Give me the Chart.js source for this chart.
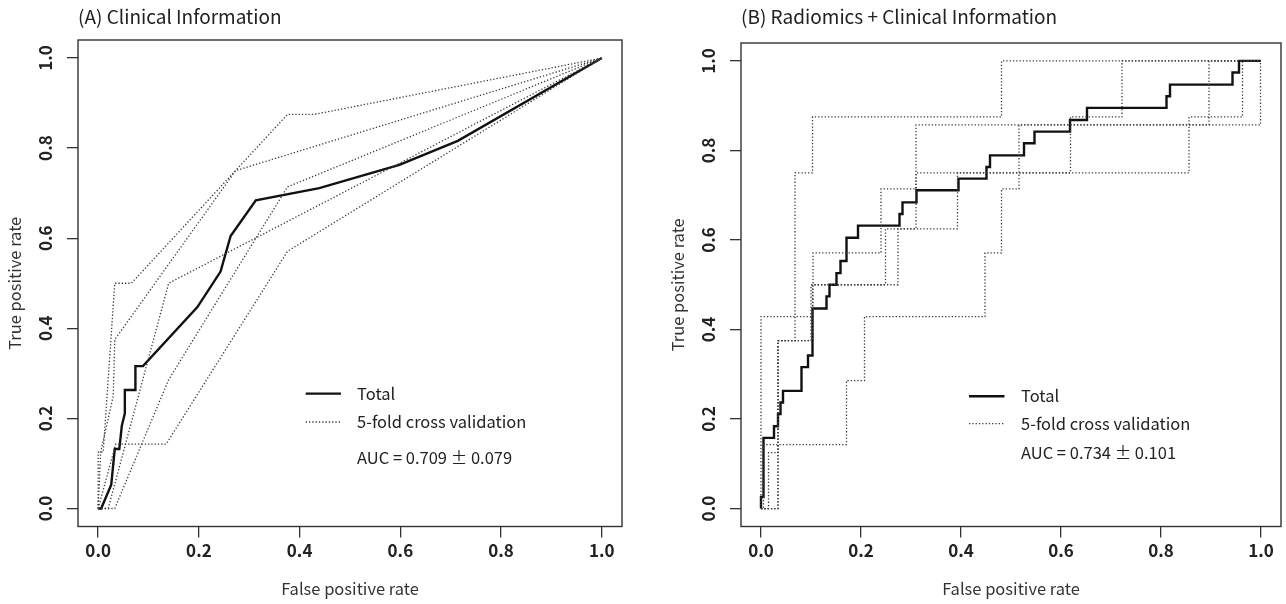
<!DOCTYPE html>
<html>
<head>
<meta charset="utf-8">
<script src="https://cdn.jsdelivr.net/npm/chart.js@4.4.1/dist/chart.umd.min.js"></script>
<style>
  html, body { margin: 0; padding: 0; background: #fff; }
  #wrap { position: relative; width: 1286px; height: 604px; overflow: hidden; }
  canvas { position: absolute; top: 0; }
  #chartA { left: 0; }
  #chartB { left: 663px; }
</style>
</head>
<body>
<div id="wrap">
  <canvas id="chartA" width="640" height="604"></canvas>
  <canvas id="chartB" width="623" height="604"></canvas>
</div>
<script>
// ROC curves
const tickValues = [0, 0.2, 0.4, 0.6, 0.8, 1.0];

// (A) Clinical Information
const clinTotalFpr = [0, 0.006, 0.026, 0.033, 0.042, 0.047, 0.053, 0.053, 0.074, 0.074, 0.089, 0.197, 0.243, 0.263, 0.313, 0.439, 0.598, 0.714, 1];
const clinTotalTpr = [0, 0, 0.053, 0.132, 0.132, 0.184, 0.211, 0.263, 0.263, 0.316, 0.316, 0.447, 0.526, 0.605, 0.684, 0.711, 0.763, 0.816, 1];
const clinFold1Fpr = [0, 0, 0.01, 0.033, 0.066, 0.376, 0.43, 1];
const clinFold1Tpr = [0, 0.125, 0.125, 0.5, 0.5, 0.875, 0.875, 1];
const clinFold2Fpr = [0, 0.005, 0.03, 0.033, 0.273, 1];
const clinFold2Tpr = [0, 0.125, 0.25, 0.375, 0.75, 1];
const clinFold3Fpr = [0, 0.02, 0.14, 1];
const clinFold3Tpr = [0, 0, 0.5, 1];
const clinFold4Fpr = [0, 0.033, 0.14, 0.376, 1];
const clinFold4Tpr = [0, 0, 0.286, 0.714, 1];
const clinFold5Fpr = [0, 0.035, 0.135, 0.376, 1];
const clinFold5Tpr = [0, 0.143, 0.143, 0.571, 1];

// (B) Radiomics + Clinical Information
const radTotalFpr = [0, 0, 0.005, 0.005, 0.026, 0.026, 0.034, 0.034, 0.039, 0.039, 0.044, 0.044, 0.081, 0.081, 0.094, 0.094, 0.103, 0.103, 0.131, 0.131, 0.137, 0.137, 0.151, 0.151, 0.159, 0.159, 0.171, 0.171, 0.194, 0.194, 0.277, 0.277, 0.283, 0.283, 0.311, 0.311, 0.395, 0.395, 0.451, 0.451, 0.458, 0.458, 0.526, 0.526, 0.547, 0.547, 0.618, 0.618, 0.652, 0.652, 0.811, 0.811, 0.818, 0.818, 0.943, 0.943, 0.956, 0.956, 1];
const radTotalTpr = [0, 0.026, 0.026, 0.158, 0.158, 0.184, 0.184, 0.211, 0.211, 0.237, 0.237, 0.263, 0.263, 0.316, 0.316, 0.342, 0.342, 0.447, 0.447, 0.474, 0.474, 0.5, 0.5, 0.526, 0.526, 0.553, 0.553, 0.605, 0.605, 0.632, 0.632, 0.658, 0.658, 0.684, 0.684, 0.711, 0.711, 0.737, 0.737, 0.763, 0.763, 0.789, 0.789, 0.816, 0.816, 0.842, 0.842, 0.868, 0.868, 0.895, 0.895, 0.921, 0.921, 0.947, 0.947, 0.974, 0.974, 1, 1];
const radFold1Fpr = [0, 0.034, 0.034, 0.068, 0.068, 0.103, 0.103, 0.481, 0.481, 1];
const radFold1Tpr = [0, 0, 0.375, 0.375, 0.75, 0.75, 0.875, 0.875, 1, 1];
const radFold2Fpr = [0, 0, 0.104, 0.104, 0.24, 0.24, 0.31, 0.31, 0.896, 0.896, 1];
const radFold2Tpr = [0, 0.429, 0.429, 0.571, 0.571, 0.714, 0.714, 0.857, 0.857, 1, 1];
const radFold3Fpr = [0, 0.015, 0.015, 0.034, 0.034, 0.103, 0.103, 0.274, 0.274, 0.31, 0.31, 0.619, 0.619, 0.722, 0.722, 1];
const radFold3Tpr = [0, 0, 0.125, 0.125, 0.375, 0.375, 0.5, 0.5, 0.625, 0.625, 0.75, 0.75, 0.875, 0.875, 1, 1];
const radFold4Fpr = [0, 0.034, 0.034, 0.1, 0.1, 0.249, 0.249, 0.393, 0.393, 0.856, 0.856, 0.963, 0.963, 1];
const radFold4Tpr = [0, 0, 0.375, 0.375, 0.5, 0.5, 0.625, 0.625, 0.75, 0.75, 0.875, 0.875, 1, 1];
const radFold5Fpr = [0, 0.005, 0.005, 0.171, 0.171, 0.207, 0.207, 0.448, 0.448, 0.481, 0.481, 0.516, 0.516, 0.999, 0.999, 1];
const radFold5Tpr = [0, 0, 0.143, 0.143, 0.286, 0.286, 0.429, 0.429, 0.571, 0.571, 0.714, 0.714, 0.857, 0.857, 1, 1];

const FONT = '"Noto Sans CJK JP", "Noto Sans", sans-serif';
Chart.defaults.font.family = FONT;
Chart.defaults.color = '#222';

const foldStyle = { borderColor: '#3a3a3a', borderWidth: 1.3, borderDash: [1.3, 2] };
const totalStyle = { borderColor: '#111', borderWidth: 2.4 };

function toPoints(xs, ys) {
    return xs.map((x, i) => ({ x: x, y: ys[i] }));
}

// Box around the plot region, R style
const boxPlugin = {
    id: 'plotBox',
    afterDraw(chart) {
        const { ctx, chartArea: a } = chart;
        ctx.save();
        ctx.strokeStyle = '#333';
        ctx.lineWidth = 1.4;
        ctx.strokeRect(a.left, a.top, a.right - a.left, a.bottom - a.top);
        ctx.restore();
    }
};

// Legend drawn inside the plot area
const rocLegend = {
    id: 'rocLegend',
    afterDatasetsDraw(chart, args, opts) {
        const { ctx, scales: { x, y } } = chart;
        const x0 = x.getPixelForValue(opts.lineFrom);
        const x1 = x.getPixelForValue(opts.lineTo);
        const xt = x.getPixelForValue(opts.textAt);
        ctx.save();
        ctx.font = '16.5px ' + FONT;
        ctx.fillStyle = '#222';
        ctx.textBaseline = 'middle';
        const rows = [
            { label: 'Total', style: totalStyle },
            { label: '5-fold cross validation', style: foldStyle },
            { label: opts.auc, style: null }
        ];
        rows.forEach((r, i) => {
            const py = y.getPixelForValue(opts.rows[i]);
            if (r.style) {
                ctx.beginPath();
                ctx.strokeStyle = r.style.borderColor;
                ctx.lineWidth = r.style.borderWidth;
                ctx.setLineDash(r.style.borderDash || []);
                ctx.moveTo(x0, py);
                ctx.lineTo(x1, py);
                ctx.stroke();
            }
            ctx.fillText(r.label, xt, py);
        });
        ctx.restore();
    }
};

function makeAxis(title, isY, fitSize) {
    return {
        type: 'linear',
        min: -0.04,
        max: 1.04,
        afterBuildTicks: scale => { scale.ticks = tickValues.map(v => ({ value: v })); },
        afterFit: scale => { if (isY) scale.width = fitSize; else scale.height = fitSize; },
        border: { display: false },
        grid: { drawOnChartArea: false, drawTicks: true, tickLength: 11, color: '#333', lineWidth: 1.3 },
        ticks: {
            autoSkip: false,
            padding: isY ? 9 : 3,
            minRotation: isY ? 90 : 0,
            maxRotation: isY ? 90 : 0,
            crossAlign: isY ? 'center' : 'near',
            color: '#222',
            font: { size: 17, weight: 'bold' },
            callback: v => Number(v).toFixed(1)
        },
        title: {
            display: true,
            text: title,
            color: '#333',
            font: { size: 16.5 },
            padding: isY ? { top: 5, bottom: 0 } : { top: 0, bottom: 5 }
        }
    };
}

function makeChart(id, title, folds, total, legend, topHeight, padRight) {
    const datasets = folds.map((f, i) => Object.assign({
        label: 'Fold ' + (i + 1),
        data: toPoints(f[0], f[1]),
        showLine: true,
        pointRadius: 0,
        fill: false
    }, foldStyle));
    datasets.push(Object.assign({
        label: 'Total',
        data: toPoints(total[0], total[1]),
        showLine: true,
        pointRadius: 0,
        fill: false
    }, totalStyle));

    return new Chart(document.getElementById(id), {
        type: 'scatter',
        data: { datasets },
        options: {
            responsive: false,
            animation: false,
            layout: { padding: { left: 0, right: padRight, top: 0, bottom: 0 } },
            scales: {
                x: makeAxis('False positive rate', false, 77.5),
                y: makeAxis('True positive rate', true, 78)
            },
            plugins: {
                legend: { display: false },
                tooltip: { enabled: false },
                title: {
                    display: true,
                    text: title,
                    align: 'start',
                    fullSize: false,
                    color: '#222',
                    font: { size: 19, weight: 'normal' },
                    padding: { top: 5.6, bottom: topHeight - 5.6 - 22.8 }
                },
                rocLegend: legend
            }
        },
        plugins: [boxPlugin, rocLegend]
    });
}

makeChart('chartA', '(A) Clinical Information',
    [[clinFold1Fpr, clinFold1Tpr], [clinFold2Fpr, clinFold2Tpr], [clinFold3Fpr, clinFold3Tpr],
     [clinFold4Fpr, clinFold4Tpr], [clinFold5Fpr, clinFold5Tpr]],
    [clinTotalFpr, clinTotalTpr],
    { lineFrom: 0.412, lineTo: 0.482, textAt: 0.514, rows: [0.255, 0.192, 0.113], auc: 'AUC = 0.709 ± 0.079' },
    40, 18);

makeChart('chartB', '(B) Radiomics + Clinical Information',
    [[radFold1Fpr, radFold1Tpr], [radFold2Fpr, radFold2Tpr], [radFold3Fpr, radFold3Tpr],
     [radFold4Fpr, radFold4Tpr], [radFold5Fpr, radFold5Tpr]],
    [radTotalFpr, radTotalTpr],
    { lineFrom: 0.416, lineTo: 0.487, textAt: 0.52, rows: [0.251, 0.19, 0.124], auc: 'AUC = 0.734 ± 0.101' },
    43, 5);
</script>
</body>
</html>
